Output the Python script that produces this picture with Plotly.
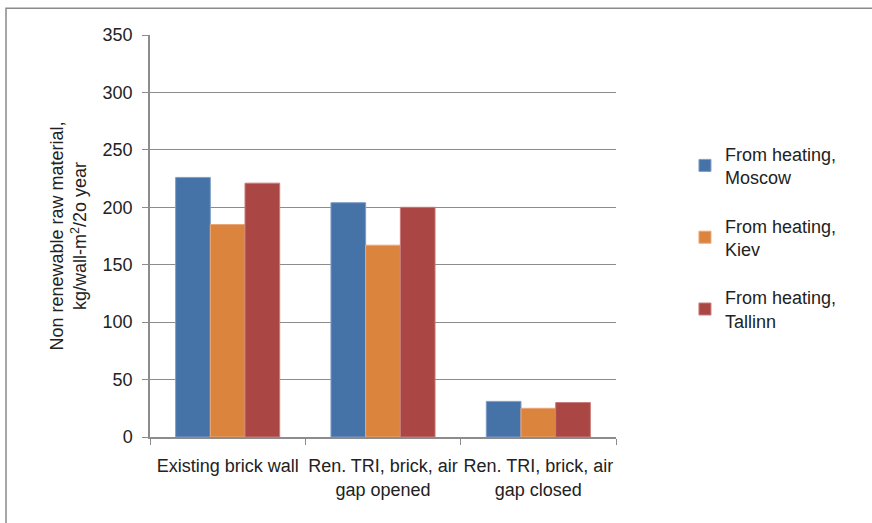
import plotly.graph_objects as go

categories = ["Existing brick wall", "Ren. TRI, brick, air<br>gap opened", "Ren. TRI, brick, air<br>gap closed"]
moscow = [226, 204, 31]
kiev = [185, 167, 25]
tallinn = [221, 200, 30]

names = ["From heating,<br>Moscow", "From heating,<br>Kiev", "From heating,<br>Tallinn"]
colors = ["#4572A7", "#DB843D", "#AA4643"]
edges = ["#7F9CC7", "#EBA877", "#C97C7A"]

fnt = "Liberation Sans, Arial"

fig = go.Figure()
for i, (vals, nm, c, e) in enumerate(zip([moscow, kiev, tallinn], names, colors, edges)):
    fig.add_trace(go.Bar(x=categories, y=vals, name=nm, legendgroup=str(i),
                         marker=dict(color=c, line=dict(color=e, width=1))))

fig.update_layout(
    width=872, height=523,
    margin=dict(l=150, r=256, t=35, b=86, autoexpand=False),
    paper_bgcolor="white", plot_bgcolor="white",
    barmode="group", bargap=0.33, bargroupgap=0,
    font=dict(family=fnt, size=18, color="#222"),
    legend=dict(x=1.148, y=0.75, xanchor="left", yanchor="top",
                font=dict(size=18), tracegroupgap=22, itemwidth=30),
    showlegend=True,
)
fig.update_yaxes(range=[0, 350], dtick=50, showgrid=True, gridcolor="#8c8c8c", gridwidth=1,
                 showline=True, linecolor="#8c8c8c", linewidth=1.5, automargin=False,
                 ticks="outside", ticklen=6, tickcolor="#8c8c8c", ticklabelstandoff=6,
                 title=dict(text="Non renewable raw material,<br>kg/wall-m<sup>2</sup>/2o year",
                            font=dict(size=18), standoff=11))
fig.update_xaxes(showline=True, linecolor="#8c8c8c", linewidth=1.5, automargin=False,
                 ticks="outside", ticklen=6, tickcolor="#8c8c8c", tickson="boundaries",
                 tickangle=0, tickfont=dict(size=18), ticklabelstandoff=12)

fig.add_shape(type="rect", xref="paper", yref="paper", x0=-0.309, x1=2, y0=-1, y1=1.0663,
              line=dict(color="#8a8a8a", width=1.5), layer="below")

# page has a default 8px body margin, drop it so the chart sits at 0,0
fig.write_html("out.html", config={"displayModeBar": False},
               post_script="document.body.style.margin='0';")
